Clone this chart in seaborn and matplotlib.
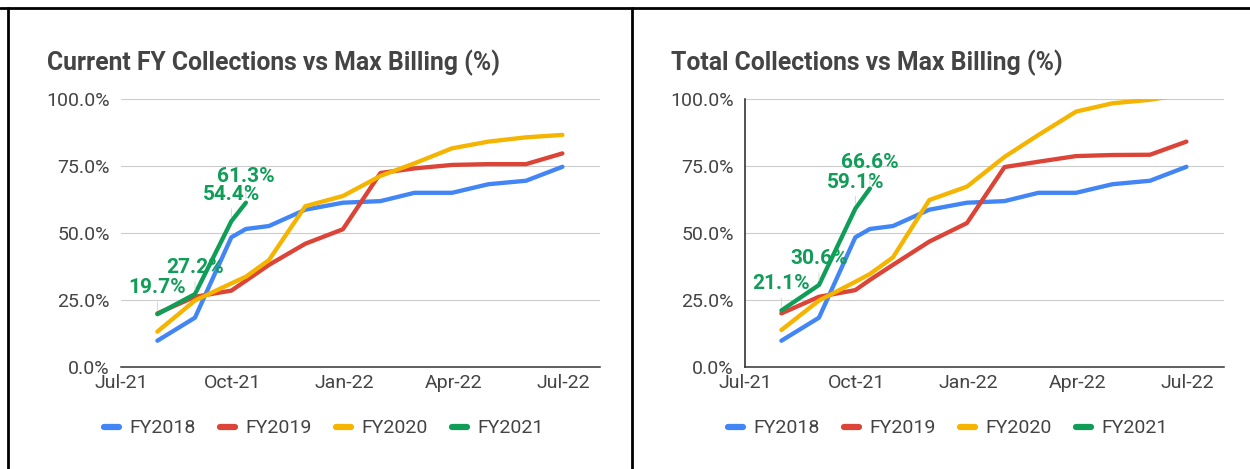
import matplotlib
matplotlib.use("Agg")
import matplotlib.pyplot as plt
import pandas as pd
import seaborn as sns
from matplotlib.lines import Line2D
from matplotlib.ticker import FuncFormatter

# Datas dos pontos (fim de mês, mais um ponto intermediário em outubro)
dates = ['2021-07-31', '2021-08-31', '2021-09-30', '2021-10-12', '2021-10-31',
         '2021-11-30', '2021-12-31', '2022-01-31', '2022-02-28', '2022-03-31',
         '2022-04-30', '2022-05-31', '2022-06-30']

series_names = ['FY2018', 'FY2019', 'FY2020', 'FY2021']

# Painel da esquerda: Current FY Collections vs Max Billing (%)
cur_fy2018 = [9.8, 18.4, 48.4, 51.5, 52.6, 58.7, 61.3, 61.9, 65.0, 65.0, 68.2, 69.5, 74.7]
cur_fy2019 = [20.0, 26.2, 28.5, 32.2, 38.1, 46.0, 51.4, 72.4, 74.1, 75.4, 75.7, 75.7, 79.7]
cur_fy2020 = [13.2, 24.8, 31.2, 33.7, 39.9, 60.0, 63.8, 71.3, 76.0, 81.6, 84.1, 85.7, 86.6]
cur_fy2021 = [19.7, 27.2, 54.4, 61.3]

# Painel da direita: Total Collections vs Max Billing (%)
tot_fy2018 = [9.8, 18.4, 48.4, 51.5, 52.6, 58.7, 61.3, 61.9, 65.0, 65.0, 68.2, 69.5, 74.7]
tot_fy2019 = [20.0, 26.2, 28.7, 32.5, 38.1, 46.8, 53.7, 74.6, 76.6, 78.7, 79.1, 79.2, 84.1]
tot_fy2020 = [13.8, 24.8, 31.8, 34.7, 40.9, 62.3, 67.3, 78.4, 86.6, 95.3, 98.4, 99.7, 102.0]
tot_fy2021 = [21.1, 30.6, 59.1, 66.6]

tick_dates = ['2021-07-01', '2021-10-01', '2022-01-01', '2022-04-01', '2022-07-01']
tick_labels = ['Jul-21', 'Oct-21', 'Jan-22', 'Apr-22', 'Jul-22']
y_ticks = [0, 25, 50, 75, 100]

colors = ['#4285F4', '#DB4437', '#F4B400', '#0F9D58']
text_color = '#444444'

sns.set_style('white')
plt.rcParams['font.family'] = ['Roboto', 'DejaVu Sans']


def long_form(values_list):
    rows = []
    for name, vals in zip(series_names, values_list):
        for d, v in zip(dates, vals):
            rows.append({'date': pd.Timestamp(d), 'value': v, 'series': name})
    return pd.DataFrame(rows)


def draw_panel(ax, values_list, title, title_x, show_left_spine):
    df = long_form(values_list)
    sns.lineplot(data=df, x='date', y='value', hue='series', hue_order=series_names,
                 palette=colors, linewidth=3.1, ax=ax, sort=True)

    ax.set_xlim(pd.Timestamp('2021-07-01'), pd.Timestamp('2022-07-31'))
    ax.set_ylim(0, 100)
    ax.set_yticks(y_ticks)
    ax.yaxis.set_major_formatter(FuncFormatter(lambda v, p: f'{v:.1f}%'))
    ax.set_xticks(pd.to_datetime(tick_dates))
    ax.set_xticklabels(tick_labels)
    ax.set_xlabel('')
    ax.set_ylabel('')
    ax.grid(axis='y', color='#cccccc', linewidth=0.8)
    ax.set_axisbelow(True)
    ax.tick_params(axis='both', length=0, labelsize=14, colors=text_color)
    ax.tick_params(axis='y', pad=8)
    ax.tick_params(axis='x', pad=5)

    for s in ['top', 'right']:
        ax.spines[s].set_visible(False)
    ax.spines['bottom'].set_color('#333333')
    ax.spines['bottom'].set_linewidth(1.1)
    ax.spines['left'].set_visible(show_left_spine)
    ax.spines['left'].set_color('#222222')
    ax.spines['left'].set_linewidth(1.1)

    # Rótulos dos pontos da série FY2021
    green = values_list[3]
    for d, v in zip(dates, green):
        ax.annotate(f'{v:.1f}%', xy=(pd.Timestamp(d), v), xytext=(0, 21),
                    textcoords='offset pixels', ha='center', va='baseline',
                    fontsize=15, fontweight='bold', color=colors[3],
                    arrowprops=dict(arrowstyle='-', color='#cfcfcf', lw=0.6,
                                    relpos=(0.5, 0), shrinkA=1, shrinkB=3))

    sns.move_legend(ax, 'upper center', bbox_to_anchor=(0.424, -0.13), ncol=4,
                    frameon=False, title=None, fontsize=14, handlelength=0.75,
                    handletextpad=0.55, columnspacing=1.25)
    leg = ax.get_legend()
    for t in leg.get_texts():
        t.set_color(text_color)
    for h in leg.legend_handles:
        h.set_linewidth(4.5)

    ax.figure.text(title_x, 1 - 70 / 469, title, fontsize=17.8, fontweight='bold',
                   color=text_color, va='baseline', ha='left')


fig = plt.figure(figsize=(12.5, 4.69), dpi=100)
ax1 = fig.add_axes([121 / 1250, 1 - 367 / 469, 479 / 1250, 268 / 469])
ax2 = fig.add_axes([745 / 1250, 1 - 367 / 469, 479 / 1250, 268 / 469])

draw_panel(ax1, [cur_fy2018, cur_fy2019, cur_fy2020, cur_fy2021],
           'Current FY Collections vs Max Billing (%)', 47 / 1250, False)
draw_panel(ax2, [tot_fy2018, tot_fy2019, tot_fy2020, tot_fy2021],
           'Total Collections vs Max Billing (%)', 671 / 1250, True)

# Moldura preta do print
fig.add_artist(Line2D([0, 1], [1 - 8 / 469] * 2, color='black', lw=2))
fig.add_artist(Line2D([8 / 1250] * 2, [0, 1 - 8 / 469], color='black', lw=2))
fig.add_artist(Line2D([632 / 1250] * 2, [0, 1 - 8 / 469], color='black', lw=2))

fig.savefig('out.png', dpi=100)
